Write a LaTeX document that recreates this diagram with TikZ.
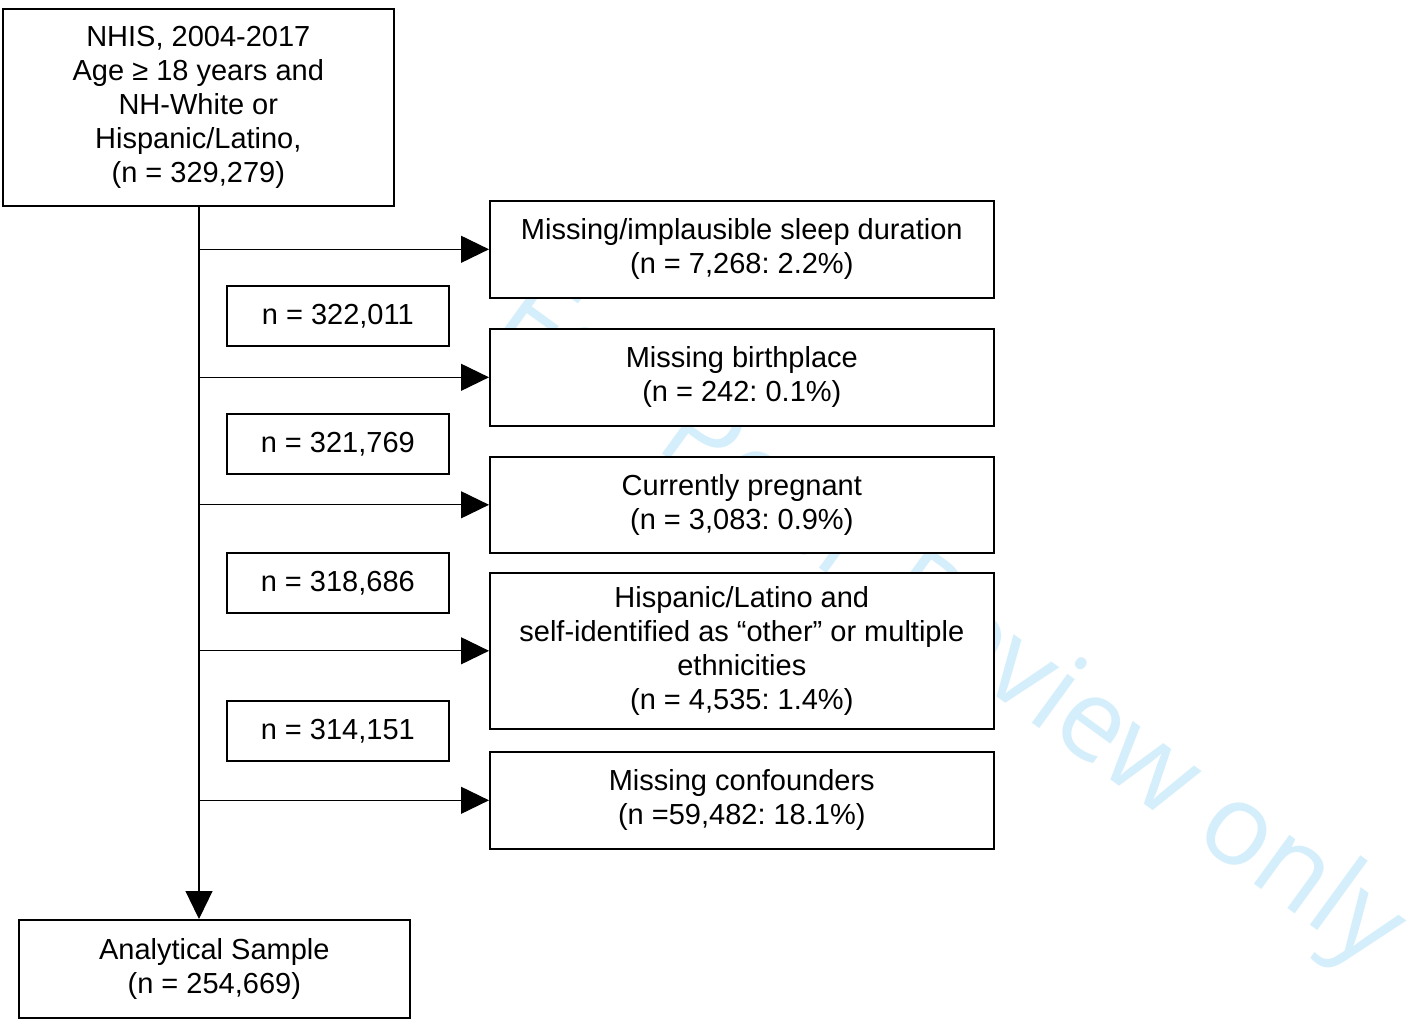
\documentclass[tikz,border=0pt]{standalone}
\usepackage{fontspec}
\setmainfont{Liberation Sans}
\newfontfamily\wmfont{Open Sans}
\usetikzlibrary{arrows.meta}
\definecolor{wm}{RGB}{212,239,251}
\frenchspacing
\begin{document}
\begin{tikzpicture}[x=1pt,y=-1pt,
  box/.style={draw, line width=1.6pt, fill=white, align=center, inner sep=0pt,
    font=\frenchspacing\fontsize{29}{34}\selectfont, anchor=north west},
  rbox/.style={box, minimum width=504pt},
  nbox/.style={box, minimum width=222pt, minimum height=60pt},
  conn/.style={line width=1.1pt},
  arr/.style={conn, -{Triangle[length=28pt,width=27pt]}},
  wmark/.style={rotate=-36, anchor=base west, inner sep=0pt, text=wm,
    font=\wmfont\fontsize{113}{113}\selectfont}]
\useasboundingbox (0,0) rectangle (1416,1021);
\fill[white] (0,0) rectangle (1416,1021);
% watermark
\node[wmark] (wm) at (490,329) {For Peer Review only};
% boxes
\node[box, minimum width=391pt, minimum height=197pt] (top) at (2,8)
  {NHIS, 2004-2017\\Age ≥ 18 years and\\NH-White or\\Hispanic/Latino,\\(n = 329,279)};
\node[rbox, minimum height=97pt] (sleep) at (489,200)
  {Missing/implausible sleep duration\\(n = 7,268: 2.2\%)};
\node[rbox, minimum height=97pt] (birth) at (489,328)
  {Missing birthplace\\(n = 242: 0.1\%)};
\node[rbox, minimum height=96pt] (preg) at (489,456)
  {Currently pregnant\\(n = 3,083: 0.9\%)};
\node[rbox, minimum height=156pt] (hisp) at (489,572)
  {Hispanic/Latino and\\self-identified as “other” or multiple\\ethnicities\\(n = 4,535: 1.4\%)};
\node[rbox, minimum height=97pt] (conf) at (489,751)
  {Missing confounders\\(n =59,482: 18.1\%)};
\node[nbox] (n1) at (226,285) {n = 322,011};
\node[nbox] (n2) at (226,413) {n = 321,769};
\node[nbox] (n3) at (226,552) {n = 318,686};
\node[nbox] (n4) at (226,700) {n = 314,151};
\node[box, minimum width=391pt, minimum height=98pt] (bot) at (18,919)
  {Analytical Sample\\(n = 254,669)};
% connectors
\coordinate (spine) at (199,0);
\draw[arr] (top.south -| spine) -- (bot.north -| spine);
\draw[arr] (spine |- sleep.west) -- (sleep.west);
\draw[arr] (spine |- birth.west) -- (birth.west);
\draw[arr] (spine |- preg.west) -- (preg.west);
\draw[arr] (spine |- hisp.west) -- (hisp.west);
\draw[arr] (spine |- conf.west) -- (conf.west);
\end{tikzpicture}
\end{document}
